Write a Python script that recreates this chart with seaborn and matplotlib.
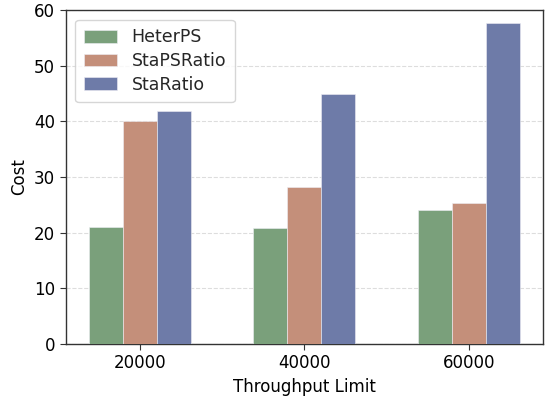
import pandas as pd
import matplotlib
matplotlib.use("Agg")
import matplotlib.pyplot as plt
import seaborn as sns

# Data
limits = ["20000", "40000", "60000"]
heterps = [21.0, 20.8, 24.1]
staps_ratio = [40.0, 28.2, 25.3]
sta_ratio = [41.9, 44.9, 57.6]

methods = ["HeterPS", "StaPSRatio", "StaRatio"]
colors = ["#7AA07B", "#C48F7A", "#6E7BA8"]

rows = []
for name, vals in zip(methods, [heterps, staps_ratio, sta_ratio]):
    for lim, v in zip(limits, vals):
        rows.append({"Throughput Limit": lim, "Cost": v, "Method": name})
df = pd.DataFrame(rows)

sns.set_style("white")
plt.rcParams["font.family"] = ["DejaVu Sans"]

fig = plt.figure(figsize=(5.47, 3.99), dpi=100)
ax = fig.add_axes([0.12, 0.138, 0.873, 0.837])

sns.barplot(data=df, x="Throughput Limit", y="Cost", hue="Method",
            palette=colors, width=0.62, saturation=1, ax=ax,
            edgecolor="#eeeef4", linewidth=0.4, zorder=3)

ax.set_xlim(-0.45, 2.45)
ax.set_ylim(0, 60)
ax.set_yticks(range(0, 61, 10))
ax.yaxis.grid(True, linestyle="--", color="#dddddd", linewidth=0.8, zorder=0)
ax.set_axisbelow(True)

ax.set_xlabel("Throughput Limit", fontsize=12)
ax.set_ylabel("Cost", fontsize=12)
ax.tick_params(axis="both", labelsize=12, length=4, color="#333333",
               labelcolor="black", left=True, bottom=True)
ax.xaxis.label.set_color("black")
ax.yaxis.label.set_color("black")
for s in ax.spines.values():
    s.set_color("#333333")
    s.set_linewidth(1.0)

ax.legend(title=None, loc="upper left", fontsize=12.5, handlelength=1.9,
          handleheight=0.75, handletextpad=0.85, borderpad=0.5,
          labelspacing=0.33, borderaxespad=0.55)

fig.savefig("out.png", dpi=100)
